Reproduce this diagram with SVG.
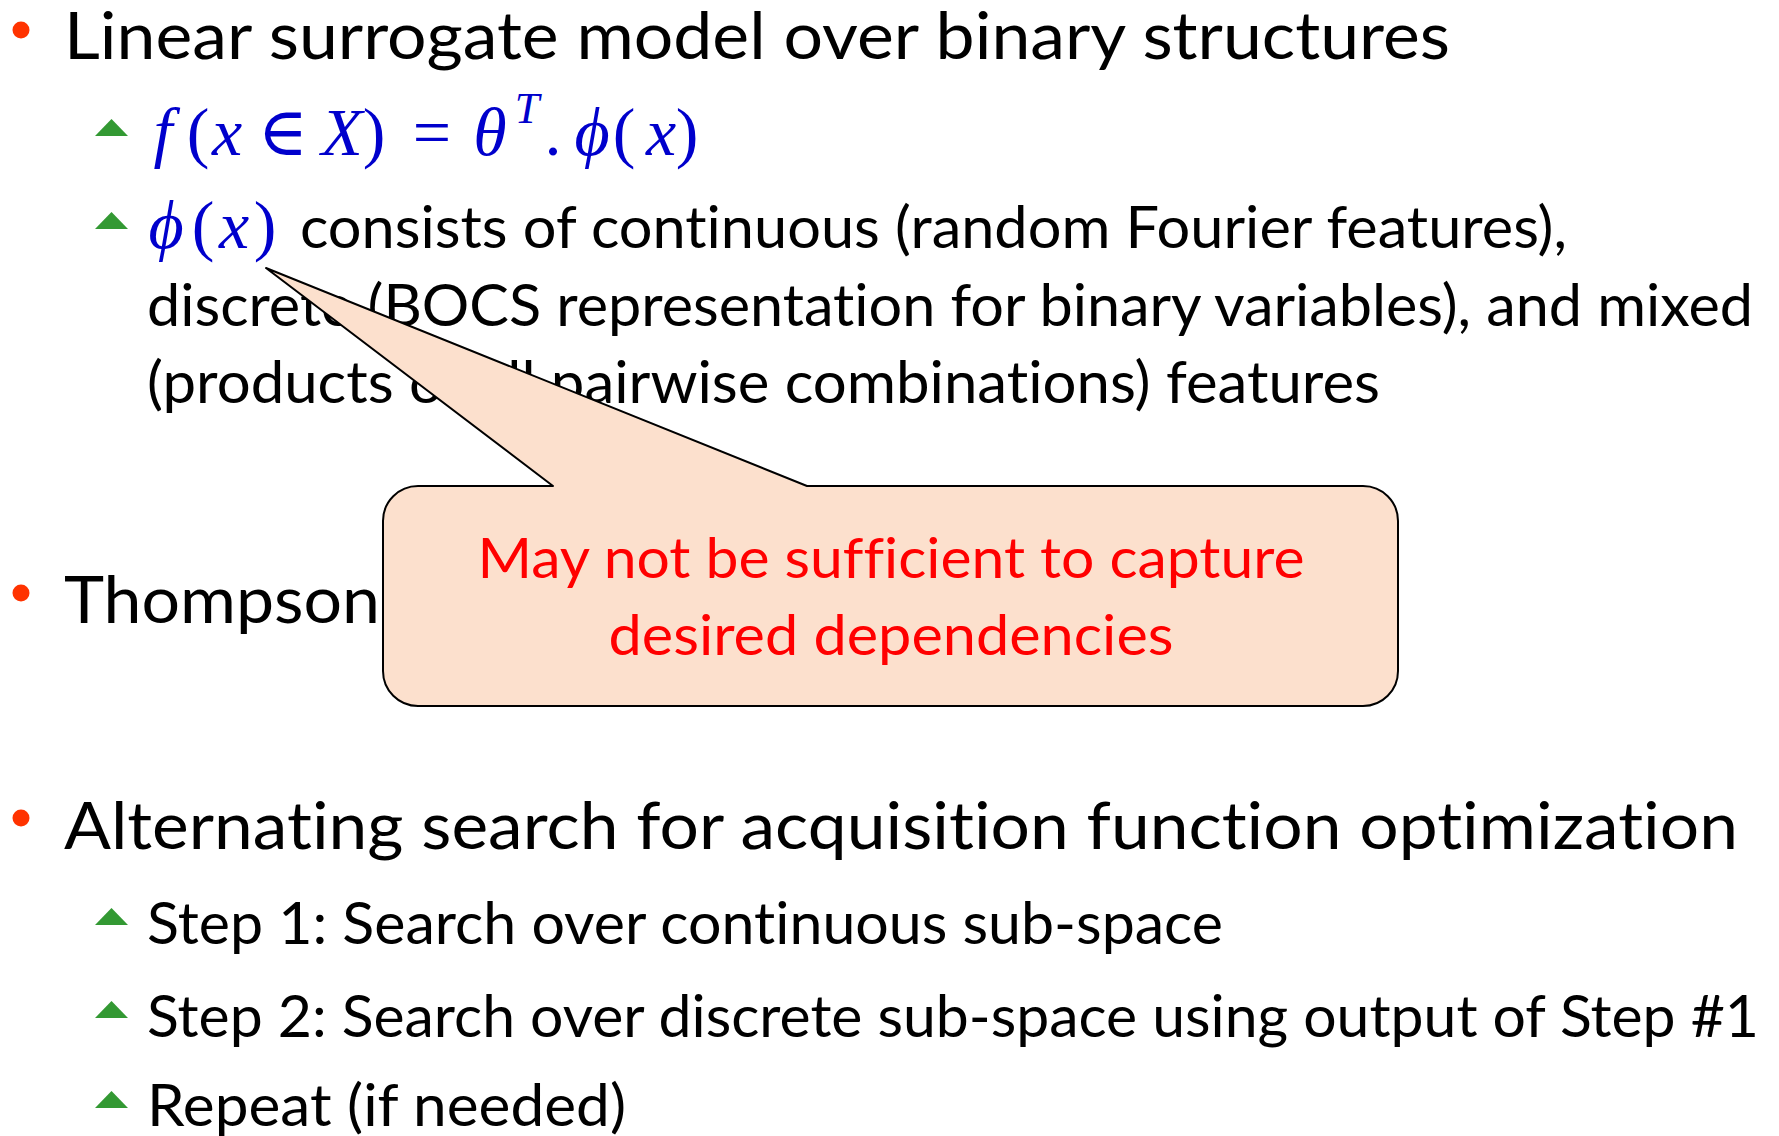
<svg xmlns="http://www.w3.org/2000/svg" width="1779" height="1136" viewBox="0 0 1779 1136">
<style>
.txt{font-family:Lato,"Open Sans","Liberation Sans",sans-serif;fill:#000;font-variant-ligatures:none}
.main{font-size:66.5px}
.sub{font-size:57.5px}
.math{font-family:"Liberation Serif","DejaVu Serif",serif;font-style:italic;fill:#0000CC;font-size:68px;text-anchor:middle}
.up{font-style:normal}
.sup{font-size:44px}
.bul{fill:#FF3300}
.tri{fill:#339933}
.box{fill:#FCE0CD;stroke:#000;stroke-width:2;stroke-linejoin:round}
.note{font-family:Lato,"Open Sans","Liberation Sans",sans-serif;fill:#FF0000;font-size:56px;text-anchor:middle;font-variant-ligatures:none}
</style>
<defs>
<circle id="dot" class="bul" r="8.5"/>
<path id="tri" class="tri" d="M0,0 L16.5,-17 L33,0 Z"/>
</defs>
<rect width="1779" height="1136" fill="#fff"/>

<g id="bullet-linear">
<use href="#dot" x="21" y="30"/>
<text class="txt main" x="64" y="59" textLength="1386" lengthAdjust="spacingAndGlyphs">Linear surrogate model over binary structures</text>
</g>

<g id="sub-formula">
<use href="#tri" x="95" y="136"/>
<text class="math" y="155"><tspan x="163">f</tspan><tspan class="up" x="198">(</tspan><tspan x="227">x</tspan><tspan class="up" x="283">∈</tspan><tspan x="342">X</tspan><tspan class="up" x="374">)</tspan><tspan class="up" x="432">=</tspan><tspan x="490">θ</tspan><tspan class="sup" x="527" y="123">T</tspan><tspan class="up" x="553" y="155">.</tspan><tspan x="592">ϕ</tspan><tspan class="up" x="624">(</tspan><tspan x="661">x</tspan><tspan class="up" x="687">)</tspan></text>
</g>

<g id="sub-features">
<use href="#tri" x="95" y="229"/>
<text class="math" y="248"><tspan x="166">ϕ</tspan><tspan class="up" x="203">(</tspan><tspan x="234">x</tspan><tspan class="up" x="265">)</tspan></text>
<text class="txt sub" x="300" y="248" textLength="1267" lengthAdjust="spacingAndGlyphs">consists of continuous (random Fourier features),</text>
<text class="txt sub" x="147" y="326" textLength="1606" lengthAdjust="spacingAndGlyphs">discrete (BOCS representation for binary variables), and mixed</text>
<text class="txt sub" x="147" y="403" textLength="1233" lengthAdjust="spacingAndGlyphs">(products of all pairwise combinations) features</text>
</g>

<g id="bullet-thompson">
<use href="#dot" x="21" y="593"/>
<text class="txt main" x="64" y="623" textLength="316" lengthAdjust="spacingAndGlyphs">Thompson</text>
</g>

<g id="bullet-alternating">
<use href="#dot" x="21" y="818"/>
<text class="txt main" x="64" y="849" textLength="1674" lengthAdjust="spacingAndGlyphs">Alternating search for acquisition function optimization</text>
</g>

<g id="sub-step1">
<use href="#tri" x="95" y="925"/>
<text class="txt sub" x="147" y="944" textLength="1076" lengthAdjust="spacingAndGlyphs">Step 1: Search over continuous sub-space</text>
</g>

<g id="sub-step2">
<use href="#tri" x="95" y="1018"/>
<text class="txt sub" x="147" y="1037" textLength="1612" lengthAdjust="spacingAndGlyphs">Step 2: Search over discrete sub-space using output of Step #1</text>
</g>

<g id="sub-repeat">
<use href="#tri" x="95" y="1108"/>
<text class="txt sub" x="147" y="1126" textLength="479" lengthAdjust="spacingAndGlyphs">Repeat (if needed)</text>
</g>

<g id="callout">
<path class="box" d="M266,268 L807,486 L1363,486 A35,35 0 0 1 1398,521 L1398,671 A35,35 0 0 1 1363,706 L418,706 A35,35 0 0 1 383,671 L383,521 A35,35 0 0 1 418,486 L553,486 Z"/>
<text class="note" x="891" y="578" textLength="827" lengthAdjust="spacingAndGlyphs">May not be sufficient to capture</text>
<text class="note" x="891" y="655" textLength="565" lengthAdjust="spacingAndGlyphs">desired dependencies</text>
</g>
</svg>
